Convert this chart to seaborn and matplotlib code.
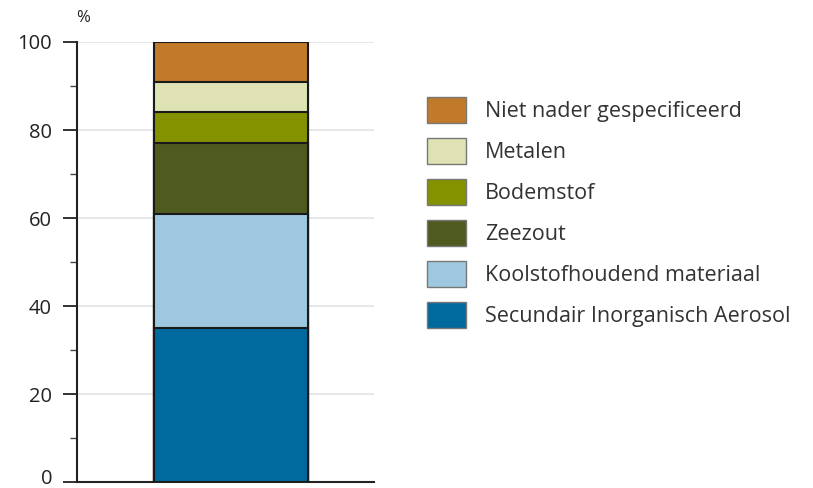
import matplotlib
matplotlib.use("Agg")
import matplotlib.pyplot as plt
import matplotlib.transforms as mtransforms
import seaborn as sns
import pandas as pd
import numpy as np
from matplotlib.patches import Patch
from matplotlib.ticker import MultipleLocator

categories = ["Secundair Inorganisch Aerosol", "Koolstofhoudend materiaal", "Zeezout",
              "Bodemstof", "Metalen", "Niet nader gespecificeerd"]
values = [35, 26, 16, 7, 7, 9]
colors = ["#00699E", "#9DC8E0", "#4E5A1E", "#849200", "#DFE3B3", "#C07A2A"]
yticks = [0, 20, 40, 60, 80, 100]

sns.set_style("white")
plt.rcParams['font.family'] = ['Open Sans', 'DejaVu Sans']

fig = plt.figure(figsize=(8.13, 4.88), dpi=100)
ax = fig.add_axes([77/813, 1-482/488, (374-77)/813, (482-42)/488])

cum = np.cumsum(values)
# draw from top down so lower segments overlay higher ones
for i in range(len(values)-1, -1, -1):
    df = pd.DataFrame({"x": ["PM"], "y": [cum[i]]})
    sns.barplot(data=df, x="x", y="y", color=colors[i], saturation=1,
                width=0.8, edgecolor="#1a1a1a", linewidth=1.5, ax=ax, zorder=3)

ax.set_xlim(-0.8, 0.743)
ax.set_ylim(0, 100)
ax.set_yticks(yticks)
ax.set_yticklabels([str(t) for t in yticks])
ax.yaxis.set_minor_locator(MultipleLocator(10))
ax.set_xticks([])
ax.set_xlabel("")
ax.set_ylabel("")
ax.grid(axis="y", color="#e3e3e3", linewidth=1.2, zorder=0)
ax.set_axisbelow(True)

for s in ["top", "right"]:
    ax.spines[s].set_visible(False)
for s in ["left", "bottom"]:
    ax.spines[s].set_color("#222222")
    ax.spines[s].set_linewidth(1.5)

ax.tick_params(axis="y", which="major", direction="out", length=10, width=1.3,
               color="#222222", pad=8, labelsize=14.5, labelcolor="#222222", left=True)
ax.tick_params(axis="y", which="minor", direction="out", length=5, width=1.0,
               color="#444444", left=True)

# nudge the "0" label up slightly so it stays inside the figure
lbl0 = ax.get_yticklabels()[0]
lbl0.set_transform(lbl0.get_transform() + mtransforms.ScaledTranslation(0, 5/100, fig.dpi_scale_trans))

fig.text(83/813, 1-18/488, "%", ha="center", va="center", fontsize=12, color="#222222")

handles = [Patch(facecolor=colors[i], edgecolor="#777777", linewidth=1.0, label=categories[i])
           for i in range(len(categories)-1, -1, -1)]
leg = fig.legend(handles=handles, loc="upper left", bbox_to_anchor=(427/813, 1-97/488),
                 frameon=False, fontsize=15.5, handlelength=1.8, handleheight=1.5,
                 labelspacing=0.68, handletextpad=0.9, borderpad=0, borderaxespad=0)
for t in leg.get_texts():
    t.set_color("#333333")

fig.savefig("out.png", dpi=100)
